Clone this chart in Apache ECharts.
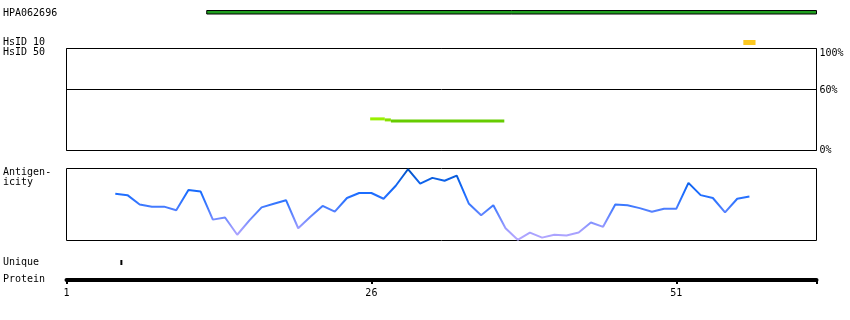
<!DOCTYPE html>
<html><head><meta charset="utf-8">
<script src="https://cdn.jsdelivr.net/npm/echarts@6/dist/echarts.min.js"></script>
<style>html,body{margin:0;padding:0;background:#fff}#c{width:850px;height:320px}</style>
</head><body><div id="c"></div>
<script>
// ---- data ----
const residueTickLabels = [1, 26, 51];
const residueTickMarks = [1, 26, 51, 62.5];
const proteinStart = 1;
const proteinEnd = 62.5;
const hpaRange = [12.5, 62.5];
const hsid10Range = [56.5, 57.5];
const uniqueMarks = [5.5];
const hsid50Ticks = [0, 60, 100];
const hsid50SegA = [[25.9, 31], [27.1, 31]];
const hsid50SegB = [[27.1, 30], [27.6, 30]];
const hsid50SegC = [[27.6, 29], [36.9, 29]];
const antigenResidues = [5,6,7,8,9,10,11,12,13,14,15,16,17,18,19,20,21,22,23,24,25,26,27,28,29,30,31,32,33,34,35,36,37,38,39,40,41,42,43,44,45,46,47,48,49,50,51,52,53,54,55,56,57];
const antigenValues = [0.65,0.63,0.50,0.47,0.47,0.42,0.70,0.68,0.29,0.32,0.08,0.28,0.46,0.51,0.56,0.17,0.33,0.48,0.40,0.59,0.66,0.66,0.58,0.76,0.99,0.79,0.87,0.83,0.90,0.51,0.35,0.49,0.17,0.01,0.11,0.04,0.08,0.07,0.11,0.25,0.19,0.50,0.49,0.45,0.40,0.44,0.44,0.80,0.63,0.59,0.39,0.58,0.61];

// ---- chart ----
const FONT = 'DejaVu Sans Mono';
const chart = echarts.init(document.getElementById('c'), null, {renderer: 'canvas'});
const L = 66.5, W = 750;
const grids = [
  {left: L, width: W, top: 10.5, height: 3.5},   // 0 HPA
  {left: L, width: W, top: 40, height: 5},       // 1 HsID10
  {left: L, width: W, top: 48.5, height: 102, show: true, borderColor: '#000', borderWidth: 1}, // 2 HsID50
  {left: L, width: W, top: 168.5, height: 72, show: true, borderColor: '#000', borderWidth: 1}, // 3 antigen
  {left: L, width: W, top: 260, height: 5},      // 4 unique
  {left: L, width: W, top: 276, height: 4}       // 5 protein
];
const xAxes = grids.map((g, i) => ({
  type: 'value', gridIndex: i, min: proteinStart, max: proteinEnd, show: i === 5,
  splitLine: {show: false},
  axisLine: {show: i === 5, lineStyle: {color: '#000', width: 4}},
  axisTick: {show: i === 5, customValues: residueTickMarks, length: 4, lineStyle: {color: '#000', width: 2}},
  axisLabel: {show: i === 5, customValues: residueTickLabels, margin: 8, color: '#000', fontFamily: FONT, fontSize: 10}
}));
const yAxes = grids.map((g, i) => {
  if (i === 2) return {
    type: 'value', gridIndex: 2, min: hsid50Ticks[0], max: hsid50Ticks[2], interval: hsid50Ticks[1], position: 'right',
    axisLine: {show: false}, axisTick: {show: false},
    splitLine: {show: true, lineStyle: {color: '#000', width: 1}},
    axisLabel: {show: true, margin: 3, color: '#000', fontFamily: FONT, fontSize: 10,
      formatter: v => v === 100 ? '{t|100%}' : (v === 60 ? '{m|60%}' : v + '%'),
      rich: {t: {padding: [9, 0, 0, 0], fontFamily: FONT, fontSize: 10, color: '#000'},
             m: {padding: [3, 0, 0, 0], fontFamily: FONT, fontSize: 10, color: '#000'}}}
  };
  return {type: 'value', gridIndex: i, min: 0, max: 1, show: false, splitLine: {show: false}};
});

function rectSeries(gi, ranges, fill, stroke) {
  return {
    type: 'custom', xAxisIndex: gi, yAxisIndex: gi, data: ranges,
    renderItem: (params, api) => {
      const a = api.coord([api.value(0), 1]);
      const b = api.coord([api.value(1), 0]);
      return {type: 'rect', shape: {x: a[0], y: a[1], width: b[0] - a[0], height: b[1] - a[1]},
        style: {fill: fill, stroke: stroke || null, lineWidth: stroke ? 1 : 0}};
    }
  };
}
function markSeries(gi, xs, fill) {
  return {
    type: 'custom', xAxisIndex: gi, yAxisIndex: gi, data: xs.map(x => [x]),
    renderItem: (params, api) => {
      const a = api.coord([api.value(0), 1]);
      const b = api.coord([api.value(0), 0]);
      return {type: 'rect', shape: {x: a[0] - 1, y: a[1], width: 2, height: b[1] - a[1]}, style: {fill: fill}};
    }
  };
}
function segSeries(data, color) {
  return {type: 'line', xAxisIndex: 2, yAxisIndex: 2, data: data, showSymbol: false, symbol: 'none',
    lineStyle: {color: color, width: 3, cap: 'butt'}, animation: false};
}

const series = [
  rectSeries(0, [hpaRange], '#1e9e1e', '#000'),
  rectSeries(1, [hsid10Range], '#fcc820'),
  segSeries(hsid50SegA, '#99f000'),
  segSeries(hsid50SegB, '#88e000'),
  segSeries(hsid50SegC, '#66cc00'),
  {type: 'line', xAxisIndex: 3, yAxisIndex: 3, data: antigenResidues.map((r, i) => [r, antigenValues[i]]),
    showSymbol: false, symbol: 'none', lineStyle: {width: 2}},
  markSeries(4, uniqueMarks, '#000')
];

const labels = [
  ['HPA062696', 13], ['HsID 10', 42.5], ['HsID 50', 52.5], ['Antigen-', 172.5], ['icity', 182.5],
  ['Unique', 262.5], ['Protein', 279.5]
];

chart.setOption({
  animation: false,
  backgroundColor: '#fff',
  grid: grids,
  xAxis: xAxes,
  yAxis: yAxes,
  visualMap: {show: false, type: 'continuous', seriesIndex: 5, dimension: 1, min: 0, max: 1,
    inRange: {color: ['#b8aaff', '#9c9cff', '#6a88ff', '#3a78ff', '#1a6cff', '#0e62e8', '#0050c0']}},
  series: series,
  graphic: labels.map(([t, y]) => ({type: 'text', x: 3, y: y,
    style: {text: t, fill: '#000', font: '10px "' + FONT + '"', verticalAlign: 'middle', align: 'left'}}))
});
</script>
</body></html>
